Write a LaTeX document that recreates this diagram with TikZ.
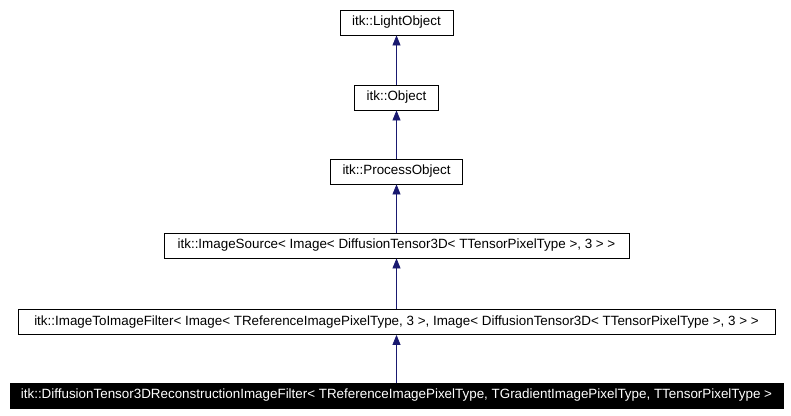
\documentclass[tikz,border=0pt]{standalone}
\usepackage{fontspec}
\setmainfont{Liberation Sans}
\usepackage{tikz}
\usetikzlibrary{positioning,arrows.meta}
\definecolor{edgeblue}{RGB}{25,25,112}
\newcommand{\classbox}[4]{%
  \node[classnode, minimum width=#3] (#1) at (396.5,#2) {#4};}

\begin{document}
\begin{tikzpicture}[x=1pt, y=-1pt,
    classnode/.style={draw=black, fill=white, line width=0.8pt, minimum height=25pt,
      inner sep=0pt, font=\fontsize{13.4}{15}\selectfont},
    leafnode/.style={classnode, fill=black, text=white},
    inherit/.style={draw=edgeblue, line width=0.8pt, -{Triangle[length=10pt,width=8pt]}}]
  \useasboundingbox (0,0) rectangle (791,415);
  \classbox{lightobj}{22.5}{113pt}{itk::LightObject}
  \classbox{obj}{97.5}{84pt}{itk::Object}
  \classbox{procobj}{171.5}{132pt}{itk::ProcessObject}
  \classbox{imgsrc}{245.5}{465pt}{itk::ImageSource< Image< DiffusionTensor3D< TTensorPixelType >, 3 > >}
  \classbox{imgfilter}{322}{757pt}{itk::ImageToImageFilter< Image< TReferenceImagePixelType, 3 >, Image< DiffusionTensor3D< TTensorPixelType >, 3 > >}
  \node[leafnode, minimum width=773pt] (recon) at (396.5,395.5)
    {itk::DiffusionTensor3DReconstructionImageFilter< TReferenceImagePixelType, TGradientImagePixelType, TTensorPixelType >};
  % inheritance edges
  \draw[inherit] (obj) -- (lightobj);
  \draw[inherit] (procobj) -- (obj);
  \draw[inherit] (imgsrc) -- (procobj);
  \draw[inherit] (imgfilter) -- (imgsrc);
  \draw[inherit] (recon) -- (imgfilter);
\end{tikzpicture}
\end{document}
